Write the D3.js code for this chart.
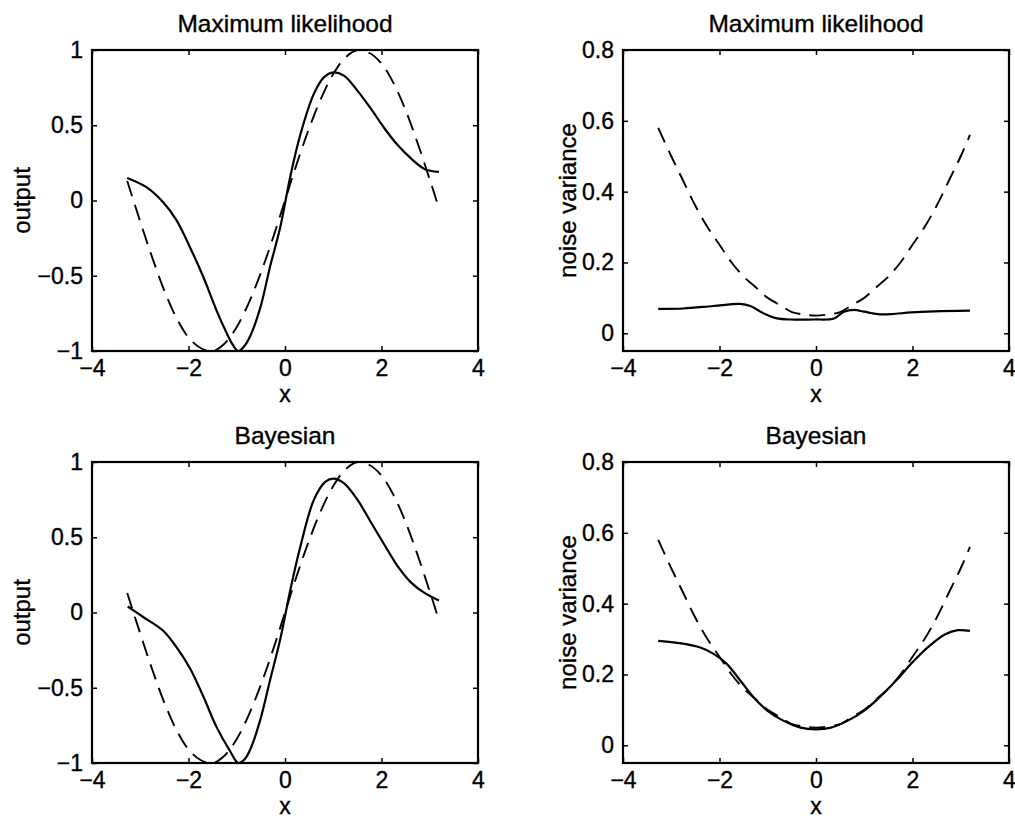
<!DOCTYPE html>
<html>
<head>
<meta charset="utf-8">
<script src="https://cdn.jsdelivr.net/npm/d3@7"></script>
<style>
  body { margin: 0; background: #fff; }
  text { font-family: "Liberation Sans", Arial, Helvetica, sans-serif; fill: #000; stroke: #000; stroke-width: 0.35px; }
</style>
</head>
<body>
<svg id="chart" width="1015" height="819"></svg>
<script>
// tick values
const xTicks = [-4, -2, 0, 2, 4];
const outTicks = [-1, -0.5, 0, 0.5, 1];
const varTicks = [0, 0.2, 0.4, 0.6, 0.8];

// true function (dashed)
const trueX = [-3.27, -3, -2.75, -2.5, -2.25, -2, -1.75, -1.5, -1.25, -1, -0.75, -0.5, -0.25, 0,
  0.25, 0.5, 0.75, 1, 1.25, 1.5, 1.75, 2, 2.25, 2.5, 2.75, 3, 3.19];
const trueOut = [0.13, -0.14, -0.38, -0.60, -0.78, -0.91, -0.98, -1.00, -0.95, -0.84, -0.68, -0.48, -0.25, 0,
  0.25, 0.48, 0.68, 0.84, 0.95, 1.00, 0.98, 0.91, 0.78, 0.60, 0.38, 0.14, -0.05];
const trueVar = [0.58, 0.50, 0.43, 0.36, 0.30, 0.25, 0.20, 0.16, 0.13, 0.10, 0.08, 0.06, 0.053, 0.05,
  0.053, 0.06, 0.08, 0.10, 0.13, 0.16, 0.20, 0.25, 0.30, 0.36, 0.43, 0.50, 0.56];

// maximum likelihood fit
const mlMeanX = [-3.27, -2.88, -2.53, -2.25, -1.97, -1.69, -1.42, -1.21, -1.08, -0.97, -0.85, -0.72, -0.51, -0.31, -0.10,
  0.11, 0.32, 0.60, 0.81, 0.98, 1.22, 1.50, 1.78, 2.06, 2.33, 2.61, 2.89, 3.19];
const mlMeanY = [0.15, 0.09, -0.01, -0.13, -0.31, -0.51, -0.73, -0.88, -0.96, -1.00, -0.97, -0.90, -0.71, -0.44, -0.18,
  0.16, 0.44, 0.71, 0.82, 0.85, 0.83, 0.73, 0.61, 0.48, 0.37, 0.28, 0.21, 0.19];
const mlVarX = [-3.27, -2.75, -2.13, -1.57, -1.36, -1.08, -0.81, -0.53, -0.04, 0.375, 0.58, 0.79, 1.0, 1.28, 1.56, 1.97, 2.46, 3.19];
const mlVarY = [0.069, 0.070, 0.077, 0.083, 0.077, 0.056, 0.042, 0.039, 0.039, 0.042, 0.061, 0.066, 0.061, 0.054, 0.054, 0.059, 0.062, 0.064];

// bayesian fit
const bayMeanX = [-3.26, -2.94, -2.53, -2.25, -1.97, -1.69, -1.42, -1.14, -0.97, -0.85, -0.72, -0.51, -0.31, -0.10,
  0.11, 0.32, 0.60, 0.84, 1.01, 1.22, 1.50, 1.78, 2.06, 2.33, 2.61, 2.89, 3.19];
const bayMeanY = [0.04, -0.03, -0.12, -0.23, -0.37, -0.56, -0.76, -0.92, -1.00, -0.98, -0.91, -0.71, -0.45, -0.18,
  0.15, 0.44, 0.75, 0.87, 0.89, 0.86, 0.75, 0.60, 0.45, 0.31, 0.20, 0.13, 0.08];
const bayVarX = [-3.27, -2.75, -2.40, -2.13, -1.85, -1.57, -1.29, -1.01, -0.67, -0.32, 0, 0.31, 0.65, 1.0, 1.35, 1.69, 1.97, 2.32, 2.67, 2.94, 3.19];
const bayVarY = [0.295, 0.287, 0.276, 0.259, 0.230, 0.183, 0.135, 0.098, 0.069, 0.050, 0.045, 0.050, 0.069, 0.098, 0.140, 0.187, 0.230, 0.277, 0.313, 0.325, 0.323];

const svg = d3.select("#chart");
const fmt = d3.format("");

const panels = [
  { left: 92, top: 50, title: "Maximum likelihood", ylabel: "output", labelX: 30,
    yDomain: [-1, 1], yTicks: outTicks, solid: d3.zip(mlMeanX, mlMeanY), dashed: d3.zip(trueX, trueOut) },
  { left: 623, top: 50, title: "Maximum likelihood", ylabel: "noise variance", labelX: 576,
    yDomain: [-0.05, 0.8], yTicks: varTicks, solid: d3.zip(mlVarX, mlVarY), dashed: d3.zip(trueX, trueVar) },
  { left: 92, top: 462, title: "Bayesian", ylabel: "output", labelX: 30,
    yDomain: [-1, 1], yTicks: outTicks, solid: d3.zip(bayMeanX, bayMeanY), dashed: d3.zip(trueX, trueOut) },
  { left: 623, top: 462, title: "Bayesian", ylabel: "noise variance", labelX: 576,
    yDomain: [-0.05, 0.8], yTicks: varTicks, solid: d3.zip(bayVarX, bayVarY), dashed: d3.zip(trueX, trueVar) }
];

const W = 386, H = 301;

panels.forEach(p => {
  const x = d3.scaleLinear().domain([-4, 4]).range([p.left, p.left + W]);
  const y = d3.scaleLinear().domain(p.yDomain).range([p.top + H, p.top]);
  const g = svg.append("g");

  const line = d3.line()
    .x(d => x(d[0]))
    .y(d => y(d[1]))
    .curve(d3.curveCatmullRom.alpha(0.5));

  g.append("path")
    .attr("d", line(p.dashed))
    .attr("fill", "none")
    .attr("stroke", "#000")
    .attr("stroke-width", 1.9)
    .attr("stroke-dasharray", "16,9");

  g.append("path")
    .attr("d", line(p.solid))
    .attr("fill", "none")
    .attr("stroke", "#000")
    .attr("stroke-width", 2.2);

  // axes, ticks pointing inward
  const bottom = g.append("g").attr("transform", `translate(0,${p.top + H})`)
    .call(d3.axisBottom(x).tickValues(xTicks).tickFormat(fmt).tickSize(-5).tickPadding(9));
  const left = g.append("g").attr("transform", `translate(${p.left},0)`)
    .call(d3.axisLeft(y).tickValues(p.yTicks).tickFormat(fmt).tickSize(-5).tickPadding(9));
  const top = g.append("g").attr("transform", `translate(0,${p.top})`)
    .call(d3.axisTop(x).tickValues(xTicks).tickFormat("").tickSize(-5));
  const right = g.append("g").attr("transform", `translate(${p.left + W},0)`)
    .call(d3.axisRight(y).tickValues(p.yTicks).tickFormat("").tickSize(-5));

  [bottom, left, top, right].forEach(a => {
    a.select(".domain").remove();
    a.selectAll("line").attr("stroke", "#000").attr("stroke-width", 1.5);
    a.selectAll("text").style("font-size", "23px").attr("fill", "#000");
  });

  g.append("rect")
    .attr("x", p.left).attr("y", p.top)
    .attr("width", W).attr("height", H)
    .attr("fill", "none")
    .attr("stroke", "#000")
    .attr("stroke-width", 2.2);

  g.append("text")
    .attr("x", p.left + W / 2).attr("y", p.top - 18)
    .attr("text-anchor", "middle")
    .style("font-size", "24.5px")
    .text(p.title);

  g.append("text")
    .attr("x", p.left + W / 2).attr("y", p.top + H + 51)
    .attr("text-anchor", "middle")
    .style("font-size", "23px")
    .text("x");

  g.append("text")
    .attr("transform", `translate(${p.labelX},${p.top + H / 2}) rotate(-90)`)
    .attr("text-anchor", "middle")
    .style("font-size", "24px")
    .text(p.ylabel);
});
</script>
</body>
</html>
